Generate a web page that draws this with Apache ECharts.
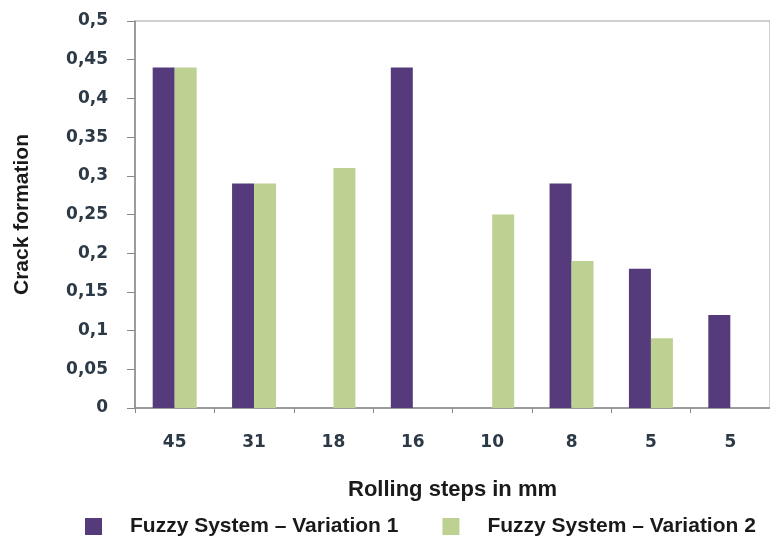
<!DOCTYPE html>
<html>
<head>
<meta charset="utf-8">
<script src="https://cdn.jsdelivr.net/npm/echarts@6/dist/echarts.min.js"></script>
<style>
  html, body { margin: 0; padding: 0; background: #fff; }
  #chart { width: 770px; height: 537px; }
</style>
</head>
<body>
<div id="chart"></div>
<script>
// Rolling steps (mm) on the category axis
const categories = ['45', '31', '18', '16', '10', '8', '5', '5'];
// Crack formation per fuzzy system variant (null = no bar)
const variation1 = [0.44, 0.29, null, 0.44, null, 0.29, 0.18, 0.12];
const variation2 = [0.44, 0.29, 0.31, null, 0.25, 0.19, 0.09, null];
// Value-axis labels, decimal comma
const yTickLabels = ['0', '0,05', '0,1', '0,15', '0,2', '0,25', '0,3', '0,35', '0,4', '0,45', '0,5'];

const seriesNames = ['Fuzzy System \u2013 Variation 1', 'Fuzzy System \u2013 Variation 2'];
const colors = ['#553B7B', '#BDD292'];

const chart = echarts.init(document.getElementById('chart'), null, { renderer: 'canvas' });

const tickFont = { fontFamily: 'DejaVu Sans', fontWeight: 'bold', fontSize: 17, color: '#2c3946' };
const titleFont = { fontFamily: 'Liberation Sans', fontWeight: 'bold', color: '#1a1a1a' };

chart.setOption({
  animation: false,
  backgroundColor: '#ffffff',
  color: colors,
  grid: {
    left: 135, top: 21, width: 640, height: 387,
    show: true, borderColor: '#a0a0a0', borderWidth: 1, backgroundColor: 'transparent'
  },
  legend: {
    data: seriesNames,
    left: 80, top: 511,
    padding: 5,
    itemWidth: 17, itemHeight: 17, itemGap: 44,
    icon: 'rect',
    textStyle: Object.assign({}, titleFont, { fontSize: 21, padding: [0, 0, 0, 23] })
  },
  xAxis: {
    type: 'category',
    data: categories,
    name: 'Rolling steps in mm',
    nameLocation: 'middle',
    nameGap: 71,
    nameTextStyle: Object.assign({}, titleFont, { fontSize: 22 }),
    axisLine: { lineStyle: { color: '#8a8a8a', width: 1.5 } },
    axisTick: { show: true, length: 5, lineStyle: { color: '#8a8a8a' } },
    axisLabel: Object.assign({ margin: 26 }, tickFont),
    splitLine: { show: false }
  },
  yAxis: {
    type: 'value',
    min: 0, max: 0.5, interval: 0.05,
    name: 'Crack formation',
    nameLocation: 'middle',
    nameGap: 102,
    nameRotate: 90,
    nameTextStyle: Object.assign({}, titleFont, { fontSize: 21 }),
    axisLine: { show: true, lineStyle: { color: '#8a8a8a', width: 1.5 } },
    axisTick: { show: true, length: 8, lineStyle: { color: '#8a8a8a' } },
    axisLabel: Object.assign({
      margin: 27,
      formatter: v => yTickLabels[Math.round(v / 0.05)]
    }, tickFont),
    splitLine: { show: false }
  },
  series: [
    {
      name: seriesNames[0], type: 'bar', data: variation1,
      barWidth: 22, barGap: '0%',
      itemStyle: { color: colors[0] }
    },
    {
      name: seriesNames[1], type: 'bar', data: variation2,
      barWidth: 22, barGap: '0%',
      itemStyle: { color: colors[1] }
    }
  ]
});
</script>
</body>
</html>
